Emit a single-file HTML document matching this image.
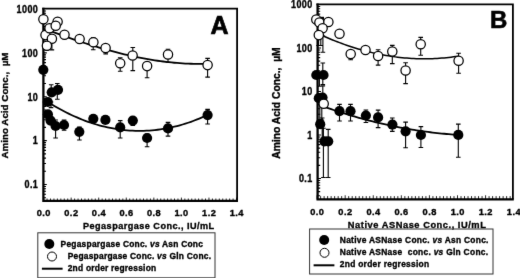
<!DOCTYPE html>
<html><head><meta charset="utf-8"><style>
html,body{margin:0;padding:0;background:#fff;width:520px;height:279px;overflow:hidden}
svg{display:block}
</style></head><body>
<svg width="520" height="279" viewBox="0 0 520 279"><style>.t{font-family:"Liberation Sans", sans-serif;font-weight:bold;fill:#000;stroke:#000}</style><rect width="520" height="279" fill="#fff"/><defs><filter id="bl" x="0" y="0" width="100%" height="100%" color-interpolation-filters="sRGB"><feConvolveMatrix order="3" kernelMatrix="0.0052 0.0619 0.0052 0.0619 0.7314 0.0619 0.0052 0.0619 0.0052" edgeMode="none" preserveAlpha="false"/></filter></defs><g filter="url(#bl)"><path d="M42.25 8.70H238.00M237.10 8.70V200.80" stroke="#000" stroke-width="1.8" fill="none"/><path d="M43.40 7.80V200.80M42.25 200.80H238.00" stroke="#000" stroke-width="2.3" fill="none"/><path d="M43.40 197.71h2.6 M43.40 194.23h2.6 M43.40 191.30h2.6 M43.40 188.75h2.6 M43.40 186.51h2.6 M43.40 184.50h3.4 M43.40 171.29h2.6 M43.40 163.57h2.6 M43.40 158.08h2.6 M43.40 153.83h2.6 M43.40 150.36h2.6 M43.40 147.42h2.6 M43.40 144.88h2.6 M43.40 142.63h2.6 M43.40 140.62h3.4 M43.40 127.42h2.6 M43.40 119.69h2.6 M43.40 114.21h2.6 M43.40 109.96h2.6 M43.40 106.48h2.6 M43.40 103.55h2.6 M43.40 101.00h2.6 M43.40 98.76h2.6 M43.40 96.75h3.4 M43.40 83.54h2.6 M43.40 75.82h2.6 M43.40 70.33h2.6 M43.40 66.08h2.6 M43.40 62.61h2.6 M43.40 59.67h2.6 M43.40 57.13h2.6 M43.40 54.88h2.6 M43.40 52.88h3.4 M43.40 39.67h2.6 M43.40 31.94h2.6 M43.40 26.46h2.6 M43.40 22.21h2.6 M43.40 18.73h2.6 M43.40 15.80h2.6 M43.40 13.25h2.6 M43.40 11.01h2.6" stroke="#000" stroke-width="1.1" fill="none"/><path d="M43.60 200.80v-3.2 M47.05 200.80v-2.3 M50.49 200.80v-2.3 M53.94 200.80v-2.3 M57.38 200.80v-2.3 M60.83 200.80v-2.3 M64.27 200.80v-2.3 M67.72 200.80v-2.3 M71.16 200.80v-3.2 M74.61 200.80v-2.3 M78.05 200.80v-2.3 M81.50 200.80v-2.3 M84.94 200.80v-2.3 M88.39 200.80v-2.3 M91.83 200.80v-2.3 M95.28 200.80v-2.3 M98.72 200.80v-3.2 M102.17 200.80v-2.3 M105.61 200.80v-2.3 M109.06 200.80v-2.3 M112.50 200.80v-2.3 M115.95 200.80v-2.3 M119.39 200.80v-2.3 M122.84 200.80v-2.3 M126.28 200.80v-3.2 M129.72 200.80v-2.3 M133.17 200.80v-2.3 M136.62 200.80v-2.3 M140.06 200.80v-2.3 M143.51 200.80v-2.3 M146.95 200.80v-2.3 M150.40 200.80v-2.3 M153.84 200.80v-3.2 M157.29 200.80v-2.3 M160.73 200.80v-2.3 M164.18 200.80v-2.3 M167.62 200.80v-2.3 M171.07 200.80v-2.3 M174.51 200.80v-2.3 M177.96 200.80v-2.3 M181.40 200.80v-3.2 M184.85 200.80v-2.3 M188.29 200.80v-2.3 M191.74 200.80v-2.3 M195.18 200.80v-2.3 M198.62 200.80v-2.3 M202.07 200.80v-2.3 M205.52 200.80v-2.3 M208.96 200.80v-3.2 M212.41 200.80v-2.3 M215.85 200.80v-2.3 M219.30 200.80v-2.3 M222.74 200.80v-2.3 M226.19 200.80v-2.3 M229.63 200.80v-2.3 M233.08 200.80v-2.3 M236.52 200.80v-3.2" stroke="#000" stroke-width="0.85" fill="none"/><text transform="translate(38.25,12.78) scale(0.9,1)" text-anchor="end" class="t" font-size="10.0" stroke-width="0.350" letter-spacing="0.45">1000</text><text transform="translate(38.25,56.66) scale(0.9,1)" text-anchor="end" class="t" font-size="10.0" stroke-width="0.350" letter-spacing="0.45">100</text><text transform="translate(38.25,100.53) scale(0.9,1)" text-anchor="end" class="t" font-size="10.0" stroke-width="0.350" letter-spacing="0.45">10</text><text transform="translate(38.25,144.41) scale(0.9,1)" text-anchor="end" class="t" font-size="10.0" stroke-width="0.350" letter-spacing="0.45">1</text><text transform="translate(38.25,188.28) scale(0.9,1)" text-anchor="end" class="t" font-size="10.0" stroke-width="0.350" letter-spacing="0.45">0.1</text><text transform="translate(43.83,216.20) scale(0.975,1)" text-anchor="middle" class="t" font-size="9.5" stroke-width="0.350" letter-spacing="0.45">0.0</text><text transform="translate(71.38,216.20) scale(0.975,1)" text-anchor="middle" class="t" font-size="9.5" stroke-width="0.350" letter-spacing="0.45">0.2</text><text transform="translate(98.94,216.20) scale(0.975,1)" text-anchor="middle" class="t" font-size="9.5" stroke-width="0.350" letter-spacing="0.45">0.4</text><text transform="translate(126.51,216.20) scale(0.975,1)" text-anchor="middle" class="t" font-size="9.5" stroke-width="0.350" letter-spacing="0.45">0.6</text><text transform="translate(154.06,216.20) scale(0.975,1)" text-anchor="middle" class="t" font-size="9.5" stroke-width="0.350" letter-spacing="0.45">0.8</text><text transform="translate(181.62,216.20) scale(0.975,1)" text-anchor="middle" class="t" font-size="9.5" stroke-width="0.350" letter-spacing="0.45">1.0</text><text transform="translate(209.19,216.20) scale(0.975,1)" text-anchor="middle" class="t" font-size="9.5" stroke-width="0.350" letter-spacing="0.45">1.2</text><text transform="translate(236.75,216.20) scale(0.975,1)" text-anchor="middle" class="t" font-size="9.5" stroke-width="0.350" letter-spacing="0.45">1.4</text><path d="M46.8 45.6V50.0 M44.5 45.6h4.6 M44.5 50.0h4.6 M51.9 38.8V49.9 M49.6 38.8h4.6 M49.6 49.9h4.6 M93.2 37.5V49.7 M90.9 37.5h4.6 M90.9 49.7h4.6 M105.7 48V53.9 M103.4 48h4.6 M103.4 53.9h4.6 M132.8 47.5V70.6 M130.5 47.5h4.6 M130.5 70.6h4.6 M120.2 57.8V71.3 M117.9 57.8h4.6 M117.9 71.3h4.6 M147.1 62V77.7 M144.79999999999998 62h4.6 M144.79999999999998 77.7h4.6 M168 49.3V62.2 M165.7 49.3h4.6 M165.7 62.2h4.6 M207.6 58.4V77.1 M205.29999999999998 58.4h4.6 M205.29999999999998 77.1h4.6" stroke="#000" stroke-width="1.1" fill="none"/><path d="M51.2 84.8V93 M48.900000000000006 84.8h4.6 M48.900000000000006 93h4.6 M57.3 83.5V99.3 M55.0 83.5h4.6 M55.0 99.3h4.6 M51.0 102V107.6 M48.7 102h4.6 M48.7 107.6h4.6 M55.6 120V138 M53.300000000000004 120h4.6 M53.300000000000004 138h4.6 M64.1 120V130.3 M61.8 120h4.6 M61.8 130.3h4.6 M79.4 127V140 M77.10000000000001 127h4.6 M77.10000000000001 140h4.6 M120.2 120.6V138 M117.9 120.6h4.6 M117.9 138h4.6 M132.8 118V125.5 M130.5 118h4.6 M130.5 125.5h4.6 M147.1 134V146.8 M144.79999999999998 134h4.6 M144.79999999999998 146.8h4.6 M168 122.4V136.1 M165.7 122.4h4.6 M165.7 136.1h4.6 M207.6 109.4V124 M205.29999999999998 109.4h4.6 M205.29999999999998 124h4.6" stroke="#000" stroke-width="1.1" fill="none"/><path d="M43.60 28.48 L46.38 29.53 L49.16 30.58 L51.94 31.62 L54.72 32.65 L57.50 33.67 L60.28 34.68 L63.06 35.68 L65.84 36.67 L68.62 37.65 L71.40 38.61 L74.18 39.57 L76.96 40.51 L79.74 41.44 L82.52 42.36 L85.29 43.26 L88.07 44.15 L90.85 45.03 L93.63 45.89 L96.41 46.73 L99.19 47.56 L101.97 48.38 L104.75 49.18 L107.53 49.96 L110.31 50.72 L113.09 51.47 L115.87 52.20 L118.65 52.91 L121.43 53.60 L124.21 54.28 L126.99 54.93 L129.77 55.57 L132.55 56.18 L135.33 56.78 L138.11 57.35 L140.89 57.90 L143.67 58.43 L146.45 58.94 L149.23 59.43 L152.01 59.89 L154.79 60.33 L157.57 60.75 L160.35 61.14 L163.13 61.51 L165.91 61.85 L168.68 62.17 L171.46 62.46 L174.24 62.73 L177.02 62.97 L179.80 63.18 L182.58 63.37 L185.36 63.53 L188.14 63.66 L190.92 63.76 L193.70 63.83 L196.48 63.88 L199.26 63.89 L202.04 63.88 L204.82 63.83 L207.60 63.76" stroke="#000" stroke-width="1.8" fill="none"/><path d="M43.60 99.25 L46.38 101.06 L49.16 102.82 L51.94 104.52 L54.72 106.17 L57.50 107.76 L60.28 109.30 L63.06 110.79 L65.84 112.23 L68.62 113.61 L71.40 114.94 L74.18 116.21 L76.96 117.44 L79.74 118.61 L82.52 119.72 L85.29 120.79 L88.07 121.80 L90.85 122.75 L93.63 123.66 L96.41 124.51 L99.19 125.30 L101.97 126.05 L104.75 126.74 L107.53 127.38 L110.31 127.96 L113.09 128.49 L115.87 128.97 L118.65 129.40 L121.43 129.77 L124.21 130.09 L126.99 130.35 L129.77 130.56 L132.55 130.72 L135.33 130.83 L138.11 130.88 L140.89 130.88 L143.67 130.83 L146.45 130.72 L149.23 130.56 L152.01 130.35 L154.79 130.08 L157.57 129.76 L160.35 129.39 L163.13 128.96 L165.91 128.48 L168.68 127.95 L171.46 127.37 L174.24 126.73 L177.02 126.04 L179.80 125.29 L182.58 124.49 L185.36 123.64 L188.14 122.74 L190.92 121.78 L193.70 120.77 L196.48 119.70 L199.26 118.59 L202.04 117.42 L204.82 116.19 L207.60 114.91" stroke="#000" stroke-width="1.8" fill="none"/><circle cx="45.5" cy="35.1" r="4.65" fill="#fff" stroke="#000" stroke-width="1.25"/><circle cx="43.4" cy="19.3" r="4.65" fill="#fff" stroke="#000" stroke-width="1.25"/><circle cx="57.6" cy="21.8" r="4.65" fill="#fff" stroke="#000" stroke-width="1.25"/><circle cx="49.5" cy="28.3" r="4.65" fill="#fff" stroke="#000" stroke-width="1.25"/><circle cx="55.7" cy="25.7" r="4.65" fill="#fff" stroke="#000" stroke-width="1.25"/><circle cx="51.9" cy="38.8" r="4.65" fill="#fff" stroke="#000" stroke-width="1.25"/><circle cx="46.9" cy="45.7" r="4.65" fill="#fff" stroke="#000" stroke-width="1.25"/><circle cx="64.5" cy="34.8" r="4.65" fill="#fff" stroke="#000" stroke-width="1.25"/><circle cx="79.6" cy="38.9" r="4.65" fill="#fff" stroke="#000" stroke-width="1.25"/><circle cx="93.4" cy="42.2" r="4.65" fill="#fff" stroke="#000" stroke-width="1.25"/><circle cx="105.6" cy="48" r="4.65" fill="#fff" stroke="#000" stroke-width="1.25"/><circle cx="132.6" cy="55.6" r="4.65" fill="#fff" stroke="#000" stroke-width="1.25"/><circle cx="120.2" cy="63.2" r="4.65" fill="#fff" stroke="#000" stroke-width="1.25"/><circle cx="147.1" cy="66.1" r="4.65" fill="#fff" stroke="#000" stroke-width="1.25"/><circle cx="168" cy="54.5" r="4.65" fill="#fff" stroke="#000" stroke-width="1.25"/><circle cx="207.6" cy="65.1" r="4.65" fill="#fff" stroke="#000" stroke-width="1.25"/><circle cx="43.3" cy="69.8" r="5.1" fill="#000"/><circle cx="51.7" cy="92.3" r="5.1" fill="#000"/><circle cx="58" cy="89.8" r="5.1" fill="#000"/><circle cx="47.8" cy="102" r="5.1" fill="#000"/><circle cx="47.9" cy="114.3" r="5.1" fill="#000"/><circle cx="50.6" cy="120.6" r="5.1" fill="#000"/><circle cx="55.6" cy="126" r="5.1" fill="#000"/><circle cx="64.0" cy="125" r="5.1" fill="#000"/><circle cx="79.3" cy="131.8" r="5.1" fill="#000"/><circle cx="93.3" cy="118.8" r="5.1" fill="#000"/><circle cx="105.4" cy="119.9" r="5.1" fill="#000"/><circle cx="120.2" cy="127.4" r="5.1" fill="#000"/><circle cx="132.8" cy="120.6" r="5.1" fill="#000"/><circle cx="147.1" cy="138" r="5.1" fill="#000"/><circle cx="168" cy="128.4" r="5.1" fill="#000"/><circle cx="207.6" cy="115.1" r="5.1" fill="#000"/><text transform="translate(210.60,33.50)" class="t" font-size="25" stroke-width="0.700">A</text><path d="M316.45 4.30H513.80M512.90 4.30V199.30" stroke="#000" stroke-width="1.8" fill="none"/><path d="M317.60 3.40V199.30M316.45 199.30H513.80" stroke="#000" stroke-width="2.3" fill="none"/><path d="M317.60 195.81h2.6 M317.60 191.59h2.6 M317.60 188.15h2.6 M317.60 185.24h2.6 M317.60 182.72h2.6 M317.60 180.49h2.6 M317.60 178.50h3.4 M317.60 165.41h2.6 M317.60 157.75h2.6 M317.60 152.31h2.6 M317.60 148.09h2.6 M317.60 144.65h2.6 M317.60 141.74h2.6 M317.60 139.22h2.6 M317.60 136.99h2.6 M317.60 135.00h3.4 M317.60 121.91h2.6 M317.60 114.25h2.6 M317.60 108.81h2.6 M317.60 104.59h2.6 M317.60 101.15h2.6 M317.60 98.24h2.6 M317.60 95.72h2.6 M317.60 93.49h2.6 M317.60 91.50h3.4 M317.60 78.41h2.6 M317.60 70.75h2.6 M317.60 65.31h2.6 M317.60 61.09h2.6 M317.60 57.65h2.6 M317.60 54.74h2.6 M317.60 52.22h2.6 M317.60 49.99h2.6 M317.60 48.00h3.4 M317.60 34.91h2.6 M317.60 27.25h2.6 M317.60 21.81h2.6 M317.60 17.59h2.6 M317.60 14.15h2.6 M317.60 11.24h2.6 M317.60 8.72h2.6 M317.60 6.49h2.6" stroke="#000" stroke-width="1.1" fill="none"/><path d="M317.10 199.30v-4.0 M320.61 199.30v-3.2 M324.12 199.30v-3.2 M327.63 199.30v-3.2 M331.14 199.30v-3.2 M334.65 199.30v-3.2 M338.16 199.30v-3.2 M341.67 199.30v-3.2 M345.18 199.30v-4.0 M348.69 199.30v-3.2 M352.20 199.30v-3.2 M355.71 199.30v-3.2 M359.22 199.30v-3.2 M362.73 199.30v-3.2 M366.24 199.30v-3.2 M369.75 199.30v-3.2 M373.26 199.30v-4.0 M376.77 199.30v-3.2 M380.28 199.30v-3.2 M383.79 199.30v-3.2 M387.30 199.30v-3.2 M390.81 199.30v-3.2 M394.32 199.30v-3.2 M397.83 199.30v-3.2 M401.34 199.30v-4.0 M404.85 199.30v-3.2 M408.36 199.30v-3.2 M411.87 199.30v-3.2 M415.38 199.30v-3.2 M418.89 199.30v-3.2 M422.40 199.30v-3.2 M425.91 199.30v-3.2 M429.42 199.30v-4.0 M432.93 199.30v-3.2 M436.44 199.30v-3.2 M439.95 199.30v-3.2 M443.46 199.30v-3.2 M446.97 199.30v-3.2 M450.48 199.30v-3.2 M453.99 199.30v-3.2 M457.50 199.30v-4.0 M461.01 199.30v-3.2 M464.52 199.30v-3.2 M468.03 199.30v-3.2 M471.54 199.30v-3.2 M475.05 199.30v-3.2 M478.56 199.30v-3.2 M482.07 199.30v-3.2 M485.58 199.30v-4.0 M489.09 199.30v-3.2 M492.60 199.30v-3.2 M496.11 199.30v-3.2 M499.62 199.30v-3.2 M503.13 199.30v-3.2 M506.64 199.30v-3.2 M510.15 199.30v-3.2" stroke="#000" stroke-width="0.85" fill="none"/><text transform="translate(312.65,8.28) scale(0.9,1)" text-anchor="end" class="t" font-size="10.0" stroke-width="0.350" letter-spacing="0.45">1000</text><text transform="translate(312.65,51.78) scale(0.9,1)" text-anchor="end" class="t" font-size="10.0" stroke-width="0.350" letter-spacing="0.45">100</text><text transform="translate(312.65,95.28) scale(0.9,1)" text-anchor="end" class="t" font-size="10.0" stroke-width="0.350" letter-spacing="0.45">10</text><text transform="translate(312.65,138.78) scale(0.9,1)" text-anchor="end" class="t" font-size="10.0" stroke-width="0.350" letter-spacing="0.45">1</text><text transform="translate(312.65,182.28) scale(0.9,1)" text-anchor="end" class="t" font-size="10.0" stroke-width="0.350" letter-spacing="0.45">0.1</text><text transform="translate(317.33,214.50) scale(0.975,1)" text-anchor="middle" class="t" font-size="9.5" stroke-width="0.350" letter-spacing="0.45">0.0</text><text transform="translate(345.41,214.50) scale(0.975,1)" text-anchor="middle" class="t" font-size="9.5" stroke-width="0.350" letter-spacing="0.45">0.2</text><text transform="translate(373.49,214.50) scale(0.975,1)" text-anchor="middle" class="t" font-size="9.5" stroke-width="0.350" letter-spacing="0.45">0.4</text><text transform="translate(401.57,214.50) scale(0.975,1)" text-anchor="middle" class="t" font-size="9.5" stroke-width="0.350" letter-spacing="0.45">0.6</text><text transform="translate(429.65,214.50) scale(0.975,1)" text-anchor="middle" class="t" font-size="9.5" stroke-width="0.350" letter-spacing="0.45">0.8</text><text transform="translate(457.73,214.50) scale(0.975,1)" text-anchor="middle" class="t" font-size="9.5" stroke-width="0.350" letter-spacing="0.45">1.0</text><text transform="translate(485.81,214.50) scale(0.975,1)" text-anchor="middle" class="t" font-size="9.5" stroke-width="0.350" letter-spacing="0.45">1.2</text><text transform="translate(513.89,214.50) scale(0.975,1)" text-anchor="middle" class="t" font-size="9.5" stroke-width="0.350" letter-spacing="0.45">1.4</text><path d="M318.6 35V45.5 M316.3 35h4.6 M316.3 45.5h4.6 M320.8 36V45.5 M318.5 36h4.6 M318.5 45.5h4.6 M322.9 36V52.2 M320.59999999999997 36h4.6 M320.59999999999997 52.2h4.6 M319.8 104V120 M317.5 104h4.6 M317.5 120h4.6 M321.8 104V120 M319.5 104h4.6 M319.5 120h4.6 M350.7 54V59.7 M348.4 54h4.6 M348.4 59.7h4.6 M378.1 49.7V65.1 M375.8 49.7h4.6 M375.8 65.1h4.6 M392.3 45.4V63.6 M390.0 45.4h4.6 M390.0 63.6h4.6 M405.6 62.8V83.6 M403.3 62.8h4.6 M403.3 83.6h4.6 M420.7 37.4V55.3 M418.4 37.4h4.6 M418.4 55.3h4.6 M458.6 53.3V73.2 M456.3 53.3h4.6 M456.3 73.2h4.6" stroke="#000" stroke-width="1.1" fill="none"/><path d="M322.8 63.0V84.5 M320.5 63.0h4.6 M320.5 84.5h4.6 M319.4 75V86.3 M317.09999999999997 75h4.6 M317.09999999999997 86.3h4.6 M322.8 85.9V98 M320.5 85.9h4.6 M320.5 98h4.6 M339.5 104.4V121 M337.2 104.4h4.6 M337.2 121h4.6 M350.5 104.4V121 M348.2 104.4h4.6 M348.2 121h4.6 M365.9 110V122.5 M363.59999999999997 110h4.6 M363.59999999999997 122.5h4.6 M378.1 110.1V127.6 M375.8 110.1h4.6 M375.8 127.6h4.6 M392.3 118V131.4 M390.0 118h4.6 M390.0 131.4h4.6 M405.6 122.1V147.8 M403.3 122.1h4.6 M403.3 147.8h4.6 M420.9 126.6V147.5 M418.59999999999997 126.6h4.6 M418.59999999999997 147.5h4.6 M458.3 124.1V157.2 M456.0 124.1h4.6 M456.0 157.2h4.6 M323.4 128.2V177.5 M321.09999999999997 128.2h4.6 M321.09999999999997 177.5h4.6 M328.2 129.4V177.5 M325.9 129.4h4.6 M325.9 177.5h4.6 M322.2 118V141 M319.9 118h4.6 M319.9 141h4.6" stroke="#000" stroke-width="1.1" fill="none"/><path d="M321.00 34.94 L323.32 35.99 L325.64 37.01 L327.97 38.01 L330.29 38.99 L332.61 39.95 L334.93 40.88 L337.25 41.79 L339.58 42.67 L341.90 43.54 L344.22 44.37 L346.54 45.19 L348.86 45.98 L351.19 46.75 L353.51 47.50 L355.83 48.22 L358.15 48.92 L360.47 49.59 L362.80 50.25 L365.12 50.87 L367.44 51.48 L369.76 52.06 L372.08 52.61 L374.41 53.15 L376.73 53.66 L379.05 54.14 L381.37 54.60 L383.69 55.04 L386.02 55.45 L388.34 55.84 L390.66 56.21 L392.98 56.55 L395.31 56.87 L397.63 57.16 L399.95 57.43 L402.27 57.67 L404.59 57.89 L406.92 58.09 L409.24 58.26 L411.56 58.41 L413.88 58.53 L416.20 58.63 L418.53 58.70 L420.85 58.75 L423.17 58.78 L425.49 58.78 L427.81 58.75 L430.14 58.70 L432.46 58.63 L434.78 58.53 L437.10 58.40 L439.42 58.26 L441.75 58.08 L444.07 57.88 L446.39 57.66 L448.71 57.41 L451.03 57.14 L453.36 56.84 L455.68 56.52 L458.00 56.17" stroke="#000" stroke-width="1.5" fill="none"/><path d="M322.00 105.97 L324.31 106.80 L326.61 107.61 L328.92 108.41 L331.22 109.20 L333.53 109.98 L335.83 110.75 L338.14 111.51 L340.44 112.25 L342.75 112.98 L345.05 113.70 L347.36 114.41 L349.66 115.11 L351.97 115.80 L354.27 116.47 L356.58 117.14 L358.88 117.79 L361.19 118.43 L363.49 119.06 L365.80 119.68 L368.10 120.28 L370.41 120.87 L372.71 121.46 L375.02 122.03 L377.32 122.59 L379.63 123.13 L381.93 123.67 L384.24 124.20 L386.54 124.71 L388.85 125.21 L391.15 125.70 L393.46 126.18 L395.76 126.64 L398.07 127.10 L400.37 127.54 L402.68 127.98 L404.98 128.40 L407.29 128.80 L409.59 129.20 L411.90 129.59 L414.20 129.96 L416.51 130.32 L418.81 130.67 L421.12 131.01 L423.42 131.34 L425.73 131.66 L428.03 131.96 L430.34 132.26 L432.64 132.54 L434.95 132.81 L437.25 133.07 L439.56 133.31 L441.86 133.55 L444.17 133.77 L446.47 133.98 L448.78 134.18 L451.08 134.37 L453.39 134.55 L455.69 134.72 L458.00 134.87" stroke="#000" stroke-width="1.8" fill="none"/><rect x="320.6" y="16.8" width="3.4" height="3" fill="#000"/><circle cx="316.3" cy="19.4" r="4.65" fill="#fff" stroke="#000" stroke-width="1.25"/><circle cx="319.4" cy="22.5" r="4.65" fill="#fff" stroke="#000" stroke-width="1.25"/><circle cx="328.4" cy="21.9" r="4.65" fill="#fff" stroke="#000" stroke-width="1.25"/><circle cx="322.6" cy="28.2" r="4.65" fill="#fff" stroke="#000" stroke-width="1.25"/><circle cx="318.8" cy="35.1" r="4.65" fill="#fff" stroke="#000" stroke-width="1.25"/><circle cx="339.5" cy="33.8" r="4.65" fill="#fff" stroke="#000" stroke-width="1.25"/><circle cx="350.7" cy="54" r="4.65" fill="#fff" stroke="#000" stroke-width="1.25"/><circle cx="365.5" cy="50" r="4.65" fill="#fff" stroke="#000" stroke-width="1.25"/><circle cx="378.1" cy="55.9" r="4.65" fill="#fff" stroke="#000" stroke-width="1.25"/><circle cx="392.3" cy="51.5" r="4.65" fill="#fff" stroke="#000" stroke-width="1.25"/><circle cx="405.6" cy="70.4" r="4.65" fill="#fff" stroke="#000" stroke-width="1.25"/><circle cx="420.7" cy="44.2" r="4.65" fill="#fff" stroke="#000" stroke-width="1.25"/><circle cx="458.6" cy="60.7" r="4.65" fill="#fff" stroke="#000" stroke-width="1.25"/><circle cx="316.3" cy="75" r="5.1" fill="#000"/><circle cx="323.5" cy="75" r="5.1" fill="#000"/><circle cx="318.8" cy="98.2" r="5.1" fill="#000"/><circle cx="322.5" cy="97.6" r="5.1" fill="#000"/><circle cx="339.5" cy="111.2" r="5.1" fill="#000"/><circle cx="350.5" cy="111.2" r="5.1" fill="#000"/><circle cx="365.9" cy="115.5" r="5.1" fill="#000"/><circle cx="378.1" cy="117.4" r="5.1" fill="#000"/><circle cx="392.4" cy="124.7" r="5.1" fill="#000"/><circle cx="405.6" cy="131.3" r="5.1" fill="#000"/><circle cx="420.9" cy="135" r="5.1" fill="#000"/><circle cx="458.3" cy="134.9" r="5.1" fill="#000"/><circle cx="320.2" cy="124.2" r="5.1" fill="#000"/><circle cx="324.4" cy="141.3" r="5.1" fill="#000"/><circle cx="328.2" cy="141.3" r="5.1" fill="#000"/><circle cx="323.7" cy="103.8" r="4.65" fill="#fff" stroke="#000" stroke-width="1.25"/><text transform="translate(490.00,28.00)" class="t" font-size="24" stroke-width="0.600">B</text><text transform="translate(148.80,229.00) scale(0.95,1)" text-anchor="middle" class="t" font-size="9.6" stroke-width="0.350" letter-spacing="0.49">Pegaspargase Conc., IU/mL</text><text transform="translate(417.10,227.80) scale(0.95,1)" text-anchor="middle" class="t" font-size="9.8" stroke-width="0.350" letter-spacing="0.56">Native ASNase Conc., IU/mL</text><text transform="translate(8.00,105.50) rotate(-90)" text-anchor="middle" class="t" font-size="9.8" stroke-width="0.350">Amino Acid Conc.,&#160; µM</text><text transform="translate(280.30,103.00) rotate(-90)" text-anchor="middle" class="t" font-size="10.3" stroke-width="0.350">Amino Acid Conc.,&#160; µM</text><rect x="37.8" y="232.8" width="177.2" height="45" fill="none" stroke="#333" stroke-width="1"/><circle cx="49.3" cy="244" r="5" fill="#000"/><circle cx="52" cy="256.5" r="4.5" fill="#fff" stroke="#000" stroke-width="1"/><path d="M41.9 268.7H62.6" stroke="#000" stroke-width="2"/><text transform="translate(60.60,246.70) scale(0.98,1)" class="t" font-size="8.6" stroke-width="0.350" letter-spacing="0.23">Pegaspargase Conc. <tspan font-style="italic">vs</tspan> Asn Conc</text><text transform="translate(67.70,258.60) scale(0.98,1)" class="t" font-size="8.6" stroke-width="0.350" letter-spacing="0.23">Pegaspargase Conc. <tspan font-style="italic">vs</tspan> Gln Conc.</text><text transform="translate(67.70,270.60) scale(0.98,1)" class="t" font-size="8.6" stroke-width="0.350" letter-spacing="0.23">2nd order regression</text><rect x="309.6" y="229" width="183.4" height="45" fill="none" stroke="#333" stroke-width="1"/><circle cx="324.2" cy="240" r="5" fill="#000"/><circle cx="324.5" cy="252.8" r="4.5" fill="#fff" stroke="#000" stroke-width="1"/><path d="M313.6 265.3H334.4" stroke="#000" stroke-width="2"/><text transform="translate(339.80,242.50) scale(0.98,1)" class="t" font-size="8.6" stroke-width="0.350" letter-spacing="0.28">Native ASNase Conc. <tspan font-style="italic">vs</tspan> Asn Conc.</text><text transform="translate(339.80,254.70) scale(0.98,1)" class="t" font-size="8.6" stroke-width="0.350" letter-spacing="0.28">Native ASNase&#160; conc. <tspan font-style="italic">vs</tspan> Gln Conc.</text><text transform="translate(339.80,266.70) scale(0.98,1)" class="t" font-size="8.6" stroke-width="0.350" letter-spacing="0.28">2nd order regression</text></g></svg>
</body></html>
